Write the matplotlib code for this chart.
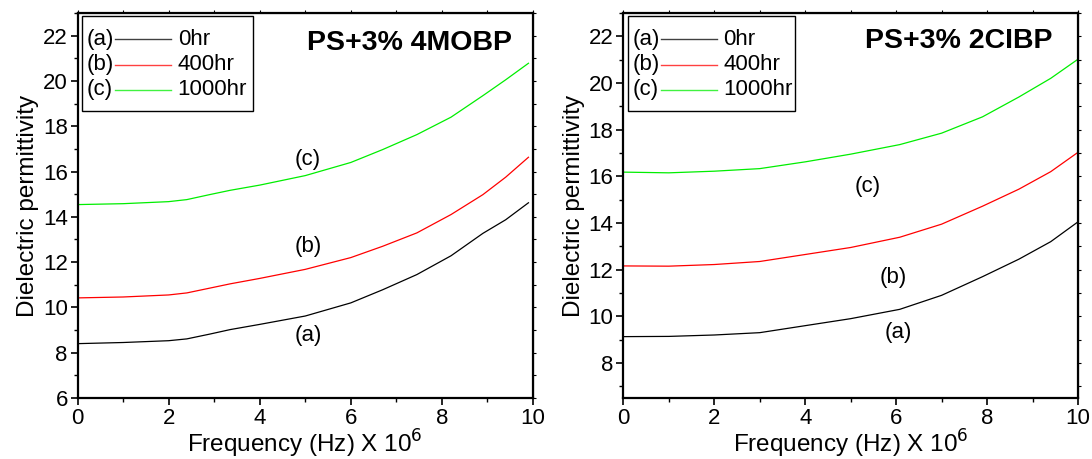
import matplotlib
matplotlib.use("Agg")
import matplotlib.pyplot as plt
from matplotlib.patches import Rectangle
from matplotlib.lines import Line2D
from matplotlib.ticker import MultipleLocator

plt.rcParams['font.family'] = ['Liberation Sans', 'DejaVu Sans']

# PS+3% 4MOBP
freq_left = [0, 1, 2, 2.4, 2.9, 3.35, 4, 5, 6, 6.7, 7.45, 8.2, 8.9, 9.4, 9.9]
left_0hr = [8.40, 8.45, 8.53, 8.61, 8.82, 9.02, 9.25, 9.62, 10.2, 10.78, 11.45, 12.28, 13.27, 13.87, 14.62]
left_400hr = [10.42, 10.46, 10.55, 10.64, 10.85, 11.04, 11.28, 11.68, 12.2, 12.7, 13.29, 14.1, 14.98, 15.75, 16.63]
left_1000hr = [14.54, 14.58, 14.67, 14.76, 14.98, 15.17, 15.4, 15.82, 16.4, 16.97, 17.63, 18.4, 19.35, 20.05, 20.78]

# PS+3% 2CIBP
freq_right = [0, 1, 2, 3, 4, 5, 6.08, 7, 7.9, 8.7, 9.4, 10]
right_0hr = [9.13, 9.14, 9.2, 9.3, 9.6, 9.9, 10.3, 10.9, 11.7, 12.45, 13.2, 14.05]
right_400hr = [12.16, 12.15, 12.22, 12.35, 12.65, 12.95, 13.39, 13.95, 14.72, 15.45, 16.2, 17.03]
right_1000hr = [16.18, 16.15, 16.22, 16.33, 16.62, 16.95, 17.36, 17.85, 18.55, 19.4, 20.2, 21.02]

series_tags = ['(a)', '(b)', '(c)']
series_names = ['0hr', '400hr', '1000hr']
colors = ['black', '#ff0000', '#00ee00']

fig = plt.figure(figsize=(10.92, 4.59), dpi=100)
ax1 = fig.add_axes([0.0710, 0.1329, 0.4171, 0.8388])
ax2 = fig.add_axes([0.5708, 0.1329, 0.4164, 0.8388])


def setup(ax, ylo, title, tx, ty, tagpos, box_right):
    ax.set_xlim(0, 10)
    ax.set_ylim(ylo, 23)
    ax.xaxis.set_major_locator(MultipleLocator(2))
    ax.xaxis.set_minor_locator(MultipleLocator(1))
    ax.yaxis.set_major_locator(MultipleLocator(2))
    ax.yaxis.set_minor_locator(MultipleLocator(1))
    ax.tick_params(which='major', direction='out', length=5, width=1.2, labelsize=16, pad=2)
    ax.tick_params(which='minor', direction='out', length=3, width=1.0)
    for s in ax.spines.values():
        s.set_linewidth(1.6)
    # small ticks on top and right
    top = ax.secondary_xaxis('top')
    top.xaxis.set_major_locator(MultipleLocator(1))
    top.tick_params(direction='out', length=2, width=0.8, labeltop=False)
    right = ax.secondary_yaxis('right')
    right.yaxis.set_major_locator(MultipleLocator(1))
    right.tick_params(direction='out', length=2, width=0.8, labelright=False)
    ax.set_xlabel('Frequency (Hz) X 10$^{6}$', fontsize=17.5, labelpad=-1)
    ax.set_ylabel('Dielectric permittivity', fontsize=17.5, labelpad=3)
    ax.text(tx, ty, title, fontsize=20.5, fontweight='bold', ha='center', va='baseline')
    for tag, (x, y) in zip(series_tags, tagpos):
        ax.text(x, y, tag, fontsize=16, ha='center', va='center')
    # legend box
    ax.add_patch(Rectangle((0.01, 0.745), box_right - 0.01, 0.248, transform=ax.transAxes,
                           fill=False, edgecolor='black', linewidth=1.0, zorder=5))
    rows = [0.932, 0.866, 0.80]
    for tag, name, c, yy in zip(series_tags, series_names, colors, rows):
        ax.text(0.021, yy, tag, transform=ax.transAxes, fontsize=16, va='center', ha='left')
        ax.add_line(Line2D([0.083, 0.206], [yy, yy], transform=ax.transAxes, color=c,
                           linewidth=1.0, alpha=0.75))
        ax.text(0.22, yy, name, transform=ax.transAxes, fontsize=16, va='center', ha='left')


for vals, c in zip([left_0hr, left_400hr, left_1000hr], colors):
    ax1.plot(freq_left, vals, color=c, linewidth=0.9)
for vals, c in zip([right_0hr, right_400hr, right_1000hr], colors):
    ax2.plot(freq_right, vals, color=c, linewidth=0.9)

setup(ax1, 6, 'PS+3% 4MOBP', 7.28, 21.38,
      [(5.06, 8.75), (5.06, 12.68), (5.06, 16.53)], 0.385)
setup(ax2, 6.5, 'PS+3% 2CIBP', 7.38, 21.49,
      [(6.04, 9.32), (5.93, 11.68), (5.38, 15.56)], 0.377)

fig.savefig('out.png', dpi=100)
